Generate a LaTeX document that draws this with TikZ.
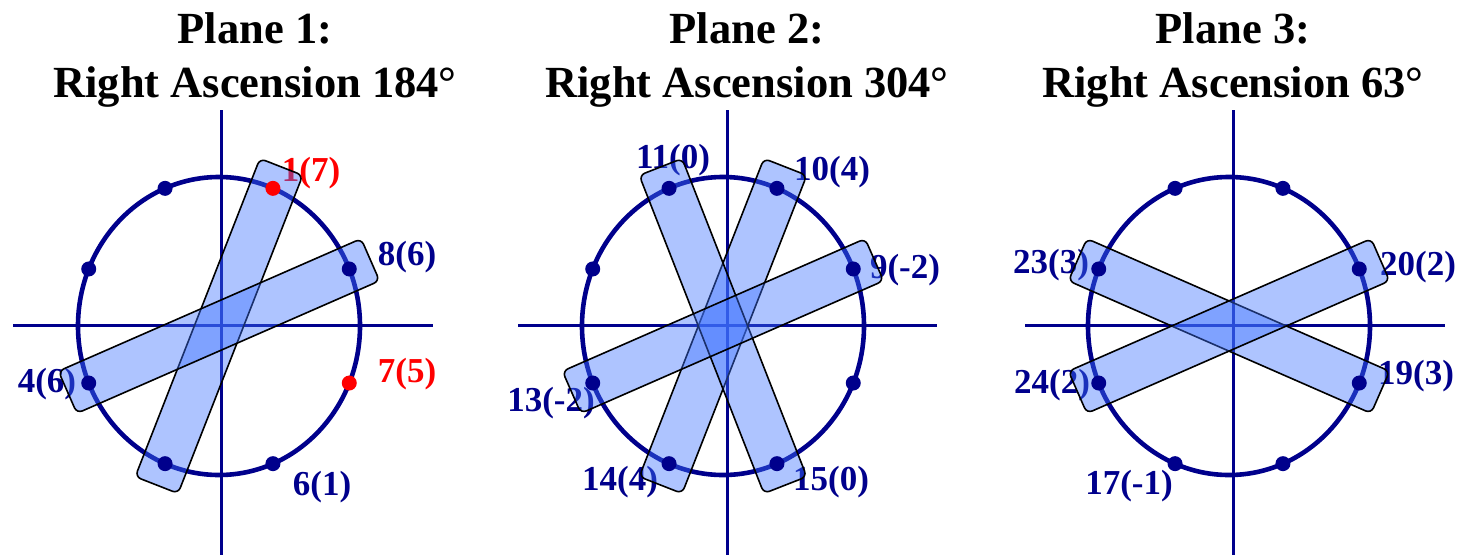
\documentclass[tikz,border=0pt]{standalone}
\usepackage{fontspec}
\setmainfont{Liberation Serif}
\definecolor{navy}{RGB}{0,0,140}
\definecolor{stripblue}{RGB}{64,115,255}
\definecolor{hot}{RGB}{255,0,0}
\begin{document}
\begin{tikzpicture}[x=1pt,y=-1pt,
  axis/.style={draw=navy, line width=3pt},
  ring/.style={draw=navy, line width=4.6pt},
  dot/.style={circle, fill=navy, inner sep=0pt, minimum size=15pt},
  reddot/.style={dot, fill=hot},
  strip/.style={draw=black, line width=1.6pt, fill=stripblue, fill opacity=0.42,
                rounded corners=6pt, minimum height=46pt, inner sep=0pt},
  lbl/.style={font=\fontsize{35}{40}\selectfont\bfseries, text=navy, inner sep=0pt},
  redlbl/.style={lbl, text=hot},
  ttl/.style={font=\fontsize{44.5}{50}\selectfont\bfseries, inner sep=0pt, anchor=base}]
\useasboundingbox (0,0) rectangle (1460,555);
\fill[white] (0,0) rectangle (1460,555);

% titles
\node[ttl] (t1a) at (255,43) {Plane 1:};
\node[ttl] (t1b) at (255,97) {Right Ascension 184°};
\node[ttl] (t2a) at (747,43) {Plane 2:};
\node[ttl] (t2b) at (747,97) {Right Ascension 304°};
\node[ttl] (t3a) at (1233,43) {Plane 3:};
\node[ttl] (t3b) at (1233,97) {Right Ascension 63°};

% centres
\coordinate (c1) at (219,326);
\coordinate (c2) at (723,326);
\coordinate (c3) at (1229,326);

% axes
\coordinate (v1t) at (221,110); \coordinate (v1b) at (221,555);
\coordinate (h1l) at (13,325);  \coordinate (h1r) at (433,325);
\coordinate (v2t) at (727,110); \coordinate (v2b) at (727,555);
\coordinate (h2l) at (518,325); \coordinate (h2r) at (937,325);
\coordinate (v3t) at (1233,110); \coordinate (v3b) at (1233,555);
\coordinate (h3l) at (1025,325); \coordinate (h3r) at (1445,325);
\draw[axis] (v1t) -- (v1b); \draw[axis] (h1l) -- (h1r);
\draw[axis] (v2t) -- (v2b); \draw[axis] (h2l) -- (h2r);
\draw[axis] (v3t) -- (v3b); \draw[axis] (h3l) -- (h3r);

% rings
\draw[ring] (c1) ellipse [x radius=141, y radius=149];
\draw[ring] (c2) ellipse [x radius=141, y radius=149];
\draw[ring] (c3) ellipse [x radius=141, y radius=149];

% labels
\node[redlbl] (l1a) at (311,173) {1(7)};
\node[lbl]    (l1b) at (407,257) {8(6)};
\node[redlbl] (l1c) at (407,374) {7(5)};
\node[lbl]    (l1d) at (47,384)  {4(6)};
\node[lbl]    (l1e) at (322,487) {6(1)};

\node[lbl] (l2a) at (673,160) {11(0)};
\node[lbl] (l2b) at (832,172) {10(4)};
\node[lbl] (l2c) at (905,270) {9(-2)};
\node[lbl] (l2d) at (551,403) {13(-2)};
\node[lbl] (l2e) at (620,482) {14(4)};
\node[lbl] (l2f) at (831,482) {15(0)};

\node[lbl] (l3a) at (1051,265) {23(3)};
\node[lbl] (l3b) at (1418,267) {20(2)};
\node[lbl] (l3c) at (1052,385) {24(2)};
\node[lbl] (l3d) at (1416,376) {19(3)};
\node[lbl] (l3e) at (1129,486) {17(-1)};

% strips
\node[strip, minimum width=341.7pt, rotate=68.6]  (s1a) at (c1) {};
\node[strip, minimum width=330.4pt, rotate=23.64] (s1b) at (c1) {};
\node[strip, minimum width=341.7pt, rotate=68.6]  (s2a) at (c2) {};
\node[strip, minimum width=341.7pt, rotate=-68.6] (s2b) at (c2) {};
\node[strip, minimum width=330.4pt, rotate=23.64] (s2c) at (c2) {};
\node[strip, minimum width=330.4pt, rotate=-23.64] (s3a) at (c3) {};
\node[strip, minimum width=330.4pt, rotate=23.64]  (s3b) at (c3) {};

% dots
\foreach \k/\t in {1/22.5,3/112.5,4/157.5,5/202.5,6/247.5,7/292.5}
  \node[dot] (d1-\k) at ({219+141*cos(\t)},{326-149*sin(\t)}) {};
\foreach \k/\t in {2/67.5,8/337.5}
  \node[reddot] (d1-\k) at ({219+141*cos(\t)},{326-149*sin(\t)}) {};
\foreach \k/\t in {1/22.5,2/67.5,3/112.5,4/157.5,5/202.5,6/247.5,7/292.5,8/337.5}{
  \node[dot] (d2-\k) at ({723+141*cos(\t)},{326-149*sin(\t)}) {};
  \node[dot] (d3-\k) at ({1229+141*cos(\t)},{326-149*sin(\t)}) {};
}
\end{tikzpicture}
\end{document}
